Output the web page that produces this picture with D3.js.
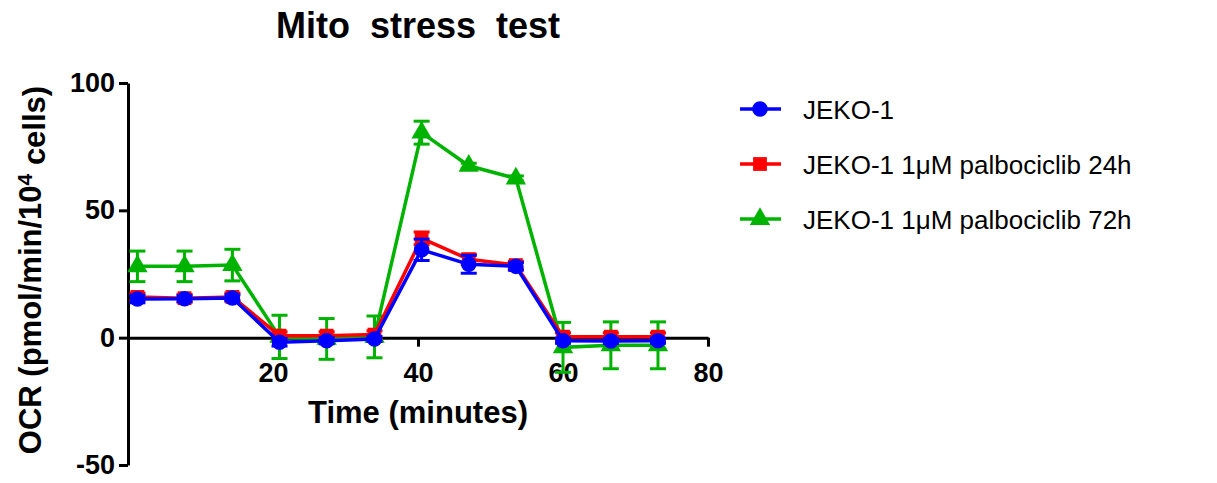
<!DOCTYPE html>
<html>
<head>
<meta charset="utf-8">
<script src="https://cdn.jsdelivr.net/npm/d3@7"></script>
<style>
  body { margin: 0; background: #fff; }
  svg { font-family: Arial, "Liberation Sans", sans-serif; }
</style>
</head>
<body>
<svg id="chart" width="1217" height="483"></svg>
<script>
// valeurs
const time = [1.3, 7.8, 14.4, 20.9, 27.4, 34.0, 40.5, 47.0, 53.5, 60.0, 66.6, 73.1];
const jeko = [15.2, 15.3, 15.6, -1.8, -1.2, -0.5, 34.5, 28.8, 28.0, -1.2, -1.3, -1.2];
const jekoSd = [1.5, 1.2, 1.2, 1.5, 1.2, 1.0, 4.2, 3.5, 1.5, 1.0, 1.0, 1.0];
const palbo24 = [16.0, 15.5, 16.0, 0.8, 0.8, 1.2, 39.0, 30.8, 28.5, 0.4, 0.4, 0.4];
const palbo24Sd = [1.5, 1.5, 1.5, 1.5, 1.5, 1.5, 2.5, 2.0, 1.5, 1.5, 1.5, 1.5];
const palbo72 = [28.0, 28.0, 28.5, 0.3, -0.5, 0.3, 80.5, 67.5, 62.5, -3.8, -3.0, -3.0];
const palbo72Sd = [6.0, 6.0, 6.2, 8.5, 8.0, 8.2, 4.5, 1.0, 1.0, 9.8, 9.2, 9.2];
const xTicks = [20, 40, 60, 80];
const yTicks = [-50, 0, 50, 100];

const series = [
  { name: "JEKO-1 1\u03bcM palbociclib 72h", values: palbo72, sd: palbo72Sd, color: "#00b300", shape: d3.symbolTriangle },
  { name: "JEKO-1 1\u03bcM palbociclib 24h", values: palbo24, sd: palbo24Sd, color: "#ff0000", shape: d3.symbolSquare },
  { name: "JEKO-1", values: jeko, sd: jekoSd, color: "#0000ff", shape: d3.symbolCircle }
];

const svg = d3.select("#chart");

const x = d3.scaleLinear().domain([0, 80]).range([128, 708]);
const y = d3.scaleLinear().domain([-50, 100]).range([465, 83]);

// titre
svg.append("text")
  .attr("x", 418).attr("y", 38)
  .attr("text-anchor", "middle")
  .attr("font-size", 36).attr("font-weight", "bold")
  .style("white-space", "pre")
  .text("Mito  stress  test");

// axes
const yAxis = svg.append("g")
  .attr("transform", "translate(128,0)")
  .call(d3.axisLeft(y).tickValues(yTicks).tickFormat(d => String(d))
    .tickSize(9).tickPadding(4).tickSizeOuter(0));

const xAxis = svg.append("g")
  .attr("transform", "translate(0," + y(0) + ")")
  .call(d3.axisBottom(x).tickValues(xTicks).tickFormat(d => String(d))
    .tickSize(9).tickPadding(16).tickSizeOuter(0));

[xAxis, yAxis].forEach(a => {
  a.select(".domain").attr("stroke", "#000").attr("stroke-width", 3);
  a.selectAll(".tick line").attr("stroke", "#000").attr("stroke-width", 3);
  a.selectAll(".tick text")
    .attr("font-size", 27).attr("font-weight", "bold")
    .attr("font-family", "Arial, 'Liberation Sans', sans-serif")
    .attr("fill", "#000");
});

// titres des axes
svg.append("text")
  .attr("x", 418).attr("y", 423)
  .attr("text-anchor", "middle")
  .attr("font-size", 31).attr("font-weight", "bold")
  .text("Time (minutes)");

const yt = svg.append("text")
  .attr("transform", "translate(41,270) rotate(-90)")
  .attr("text-anchor", "middle")
  .attr("font-size", 31).attr("font-weight", "bold");
yt.append("tspan").text("OCR (pmol/min/10");
yt.append("tspan").attr("dy", "-0.42em").attr("font-size", "0.68em").text("4");
yt.append("tspan").attr("dy", "0.42em").text(" cells)");

// séries
const line = d3.line().x((d, i) => x(time[i])).y(d => y(d));
const markerSize = s => s.shape === d3.symbolTriangle ? 180 : 190;

series.forEach(s => {
  const g = svg.append("g");

  // barres d'erreur
  const eb = g.selectAll(".eb")
    .data(s.values)
    .enter()
    .append("g")
    .attr("stroke", s.color)
    .attr("stroke-width", 3);
  eb.append("line")
    .attr("x1", (d, i) => x(time[i])).attr("x2", (d, i) => x(time[i]))
    .attr("y1", (d, i) => y(d + s.sd[i])).attr("y2", (d, i) => y(d - s.sd[i]));
  eb.append("line")
    .attr("x1", (d, i) => x(time[i]) - 8).attr("x2", (d, i) => x(time[i]) + 8)
    .attr("y1", (d, i) => y(d + s.sd[i])).attr("y2", (d, i) => y(d + s.sd[i]));
  eb.append("line")
    .attr("x1", (d, i) => x(time[i]) - 8).attr("x2", (d, i) => x(time[i]) + 8)
    .attr("y1", (d, i) => y(d - s.sd[i])).attr("y2", (d, i) => y(d - s.sd[i]));

  g.append("path")
    .attr("d", line(s.values))
    .attr("fill", "none")
    .attr("stroke", s.color)
    .attr("stroke-width", 3.5);

  g.selectAll(".pt")
    .data(s.values)
    .enter()
    .append("path")
    .attr("d", d3.symbol().type(s.shape).size(markerSize(s)))
    .attr("transform", (d, i) => "translate(" + x(time[i]) + "," + y(d) + ")")
    .attr("fill", s.color);
});

// légende
const legendRows = [series[2], series[1], series[0]];
const legend = svg.append("g");
legendRows.forEach((s, i) => {
  const cy = 109 + i * 55;
  legend.append("line")
    .attr("x1", 740).attr("x2", 781)
    .attr("y1", cy).attr("y2", cy)
    .attr("stroke", s.color).attr("stroke-width", 3.5);
  legend.append("path")
    .attr("d", d3.symbol().type(s.shape).size(markerSize(s)))
    .attr("transform", "translate(760," + cy + ")")
    .attr("fill", s.color);
  legend.append("text")
    .attr("x", 803).attr("y", cy + 10)
    .attr("font-size", 26)
    .text(s.name);
});
</script>
</body>
</html>
